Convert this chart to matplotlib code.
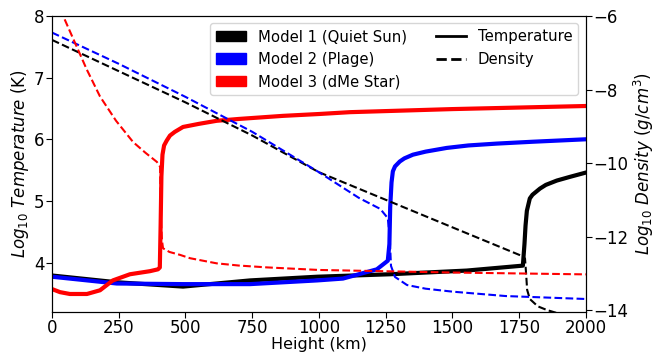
import matplotlib
matplotlib.use("Agg")
import matplotlib.pyplot as plt
from matplotlib.patches import Patch
from matplotlib.lines import Line2D

# ---- temperature profiles (log10 T) ----
h_t1 = [0, 243, 491, 742, 993, 1266, 1554, 1764, 1770, 1774, 1779, 1790, 1800, 1828, 1850, 1891, 1940, 2000]
t1 = [3.79, 3.68, 3.61, 3.71, 3.77, 3.81, 3.87, 3.95, 4.3, 4.6, 4.84, 5.04, 5.1, 5.2, 5.26, 5.33, 5.39, 5.46]

h_t2 = [0, 243, 491, 742, 993, 1090, 1217, 1258, 1264, 1267, 1272, 1277, 1285, 1303, 1320, 1352, 1400,
        1479, 1560, 1666, 1800, 2000]
t2 = [3.77, 3.66, 3.65, 3.65, 3.71, 3.74, 3.89, 4.03, 4.3, 4.9, 5.3, 5.48, 5.56, 5.64, 5.69, 5.75, 5.8,
      5.86, 5.9, 5.93, 5.96, 6.0]

h_t3 = [0, 30, 67, 131, 180, 228, 292, 367, 397, 404, 407, 410, 414, 420, 430, 442, 460, 491, 550, 617,
        700, 865, 1000, 1116, 1500, 2000]
t3 = [3.57, 3.52, 3.49, 3.49, 3.55, 3.71, 3.81, 3.86, 3.89, 3.92, 4.6, 5.4, 5.75, 5.9, 5.98, 6.06, 6.12,
      6.2, 6.25, 6.3, 6.33, 6.38, 6.41, 6.44, 6.49, 6.54]

# ---- density profiles (log10 rho) ----
h_d1 = [0, 250, 500, 750, 1000, 1250, 1500, 1764, 1772, 1776, 1780, 1790, 1820, 1854, 1900]
d1 = [-6.65, -7.5, -8.35, -9.25, -10.25, -11.0, -11.75, -12.54, -12.6, -13.0, -13.45, -13.7, -13.9, -14.0, -14.1]

h_d2 = [0, 250, 500, 750, 1000, 1150, 1230, 1258, 1265, 1270, 1285, 1330, 1400, 1500, 1700, 2000]
d2 = [-6.45, -7.3, -8.2, -9.15, -10.25, -10.95, -11.25, -11.5, -12.0, -12.8, -13.1, -13.32, -13.42, -13.5,
      -13.62, -13.7]

h_d3 = [0, 45, 93, 130, 180, 240, 304, 350, 393, 405, 408, 412, 416, 440, 480, 517, 617, 700, 805, 1000,
        1500, 2000]
d3 = [-5.6, -6.05, -6.84, -7.45, -8.19, -8.85, -9.43, -9.72, -9.97, -10.1, -11.5, -12.1, -12.32, -12.42,
      -12.5, -12.59, -12.73, -12.79, -12.84, -12.91, -12.98, -13.03]

labels = ['Model 1 (Quiet Sun)', 'Model 2 (Plage)', 'Model 3 (dMe Star)']
colors = ['black', 'blue', 'red']

fig = plt.figure(figsize=(6.62, 3.56), dpi=100)
ax = fig.add_subplot(111)
ax2 = ax.twinx()

for h, t, c in zip([h_t1, h_t2, h_t3], [t1, t2, t3], colors):
    ax.plot(h, t, color=c, lw=3)
for h, d, c in zip([h_d1, h_d2, h_d3], [d1, d2, d3], colors):
    ax2.plot(h, d, color=c, lw=1.5, ls='--')

ax.set_xlim(0, 2000)
ax.set_ylim(3.2, 8)
ax2.set_ylim(-14.05, -6)
ax.set_yticks([4, 5, 6, 7, 8])
ax2.set_yticks([-14, -12, -10, -8, -6])
ax.tick_params(labelsize=12, length=4.5, pad=1)
ax2.tick_params(labelsize=12, length=4.5, pad=1)
ax.set_xlabel('Height (km)', fontsize=11.5, labelpad=0)
ax.set_ylabel(r'$Log_{10}\ Temperature$ (K)', fontsize=12, labelpad=2)
ax2.set_ylabel(r'$Log_{10}\ Density\ (g/cm^3)$', fontsize=12, labelpad=2)

handles = [Patch(color=c, label=l) for c, l in zip(colors, labels)]
handles += [Line2D([], [], color='black', lw=2, label='Temperature'),
            Line2D([], [], color='black', lw=2, ls='--', label='Density')]
ax2.legend(handles=handles, ncol=2, loc='upper right', fontsize=10.7)

plt.subplots_adjust(left=0.0785, right=0.885, top=0.955, bottom=0.124)
plt.savefig('out.png')
